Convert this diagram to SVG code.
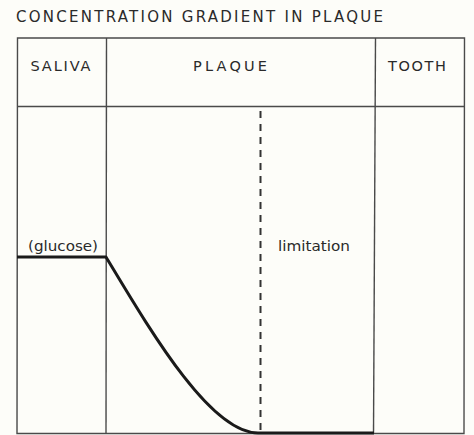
<svg xmlns="http://www.w3.org/2000/svg" width="474" height="435" viewBox="0 0 474 435">
<style>
.bg{fill:#fdfdf9}
.thin{fill:none;stroke:#4a4a4a;stroke-width:1.4}
.thick{fill:none;stroke:#1a1a1a;stroke-width:3;stroke-linecap:butt;stroke-linejoin:round}
.dash{fill:none;stroke:#333;stroke-width:2;stroke-dasharray:7 6}
text{font-family:"DejaVu Sans","Liberation Sans",Arial,sans-serif;fill:#2a2a2a}
.title{font-size:15px}
.head{font-size:14.5px}
.lab{font-size:14px}
</style>
<rect class="bg" x="0" y="0" width="474" height="435"/>
<text class="title" x="16" y="21.5" textLength="367" lengthAdjust="spacing">CONCENTRATION GRADIENT IN PLAQUE</text>
<g id="frame">
<path class="thin" d="M17.5,38 L464.5,38 L464,433.5 L17,433.5 Z"/>
<line class="thin" x1="17.5" y1="106.5" x2="464.5" y2="106.5"/>
<line class="thin" x1="106.5" y1="38" x2="106" y2="433.5"/>
<line class="thin" x1="375.5" y1="38" x2="373.5" y2="433.5"/>
</g>
<g id="saliva"><text class="head" x="30.5" y="70.5" textLength="60" lengthAdjust="spacing">SALIVA</text></g>
<g id="plaque"><text class="head" x="193" y="70.5" textLength="74" lengthAdjust="spacing">PLAQUE</text></g>
<g id="tooth"><text class="head" x="388" y="70.5" textLength="58" lengthAdjust="spacing">TOOTH</text></g>
<g id="glucose"><text class="lab" x="28" y="251" textLength="70" lengthAdjust="spacingAndGlyphs">(glucose)</text></g>
<g id="limitation"><text class="lab" x="278" y="251" textLength="72" lengthAdjust="spacingAndGlyphs">limitation</text></g>
<g id="connectors">
<line class="dash" x1="260.5" y1="111" x2="260.5" y2="433"/>
<path class="thick" d="M17,257 L106,257 C150,330 210,433 258,433 L374,433"/>
</g>
</svg>
